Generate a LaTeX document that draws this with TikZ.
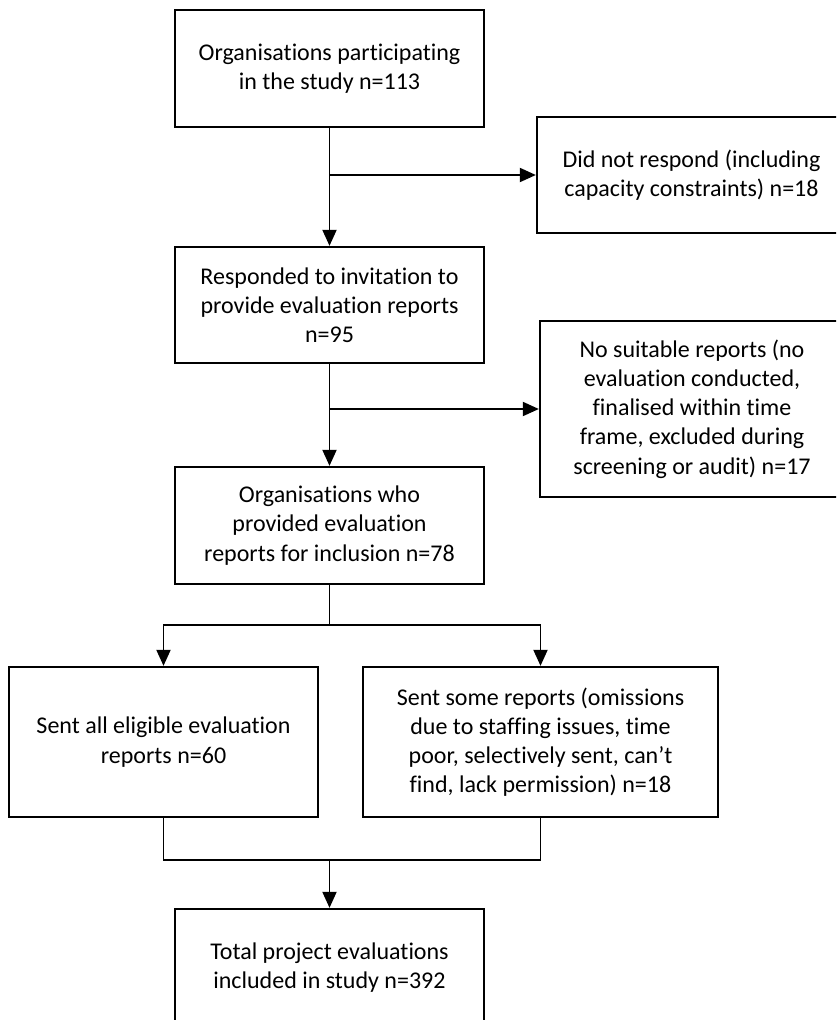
\documentclass[tikz,border=0pt]{standalone}
\usepackage{fontspec}
\setmainfont{Carlito}[Ligatures=NoCommon]
\usetikzlibrary{arrows.meta}
\begin{document}
\begin{tikzpicture}[x=1pt,y=-1pt,
  box/.style={draw, line width=2.3pt, align=center, inner sep=0pt, font=\fontsize{24}{29.2}\selectfont},
  conn/.style={line width=1.9pt},
  arr/.style={conn, -{Triangle[length=16pt,width=14pt]}}]
\clip (0,0) rectangle (836,1020);
\node[box, minimum width=309pt, minimum height=117pt] (b1) at (329.5,68.5) {Organisations participating\\in the study n=113};
\node[box, minimum width=309pt, minimum height=116pt] (dnr) at (691.5,175) {Did not respond (including\\capacity constraints) n=18};
\node[box, minimum width=309pt, minimum height=116pt] (b2) at (329.5,305) {Responded to invitation to\\provide evaluation reports\\n=95};
\node[box, minimum width=304pt, minimum height=176pt] (ns) at (692,409) {No suitable reports (no\\evaluation conducted,\\finalised within time\\frame, excluded during\\screening or audit) n=17};
\node[box, minimum width=309pt, minimum height=117pt] (b3) at (329.5,525.5) {Organisations who\\provided evaluation\\reports for inclusion n=78};
\node[box, minimum width=309pt, minimum height=150pt] (L) at (163.5,742) {Sent all eligible evaluation\\reports n=60};
\node[box, minimum width=355pt, minimum height=150pt] (R) at (540.5,742) {Sent some reports (omissions\\due to staffing issues, time\\poor, selectively sent, can’t\\find, lack permission) n=18};
\node[box, minimum width=309pt, minimum height=117pt] (bot) at (329.5,967.5) {Total project evaluations\\included in study n=392};
\coordinate (j1) at (329.5,175);
\coordinate (j2) at (329.5,409);
\coordinate (j3) at (329.5,625);
\coordinate (j4) at (329.5,860);
\draw[arr] (b1.south) -- (b2.north);
\draw[arr] (j1) -- (dnr.west);
\draw[arr] (b2.south) -- (b3.north);
\draw[arr] (j2) -- (ns.west);
\draw[conn] (b3.south) -- (j3);
\draw[arr] (j3) -| (L.north);
\draw[arr] (j3) -| (R.north);
\draw[conn] (L.south) |- (R.south |- j4) -- (R.south);
\draw[arr] (j4) -- (bot.north);
\end{tikzpicture}
\end{document}
